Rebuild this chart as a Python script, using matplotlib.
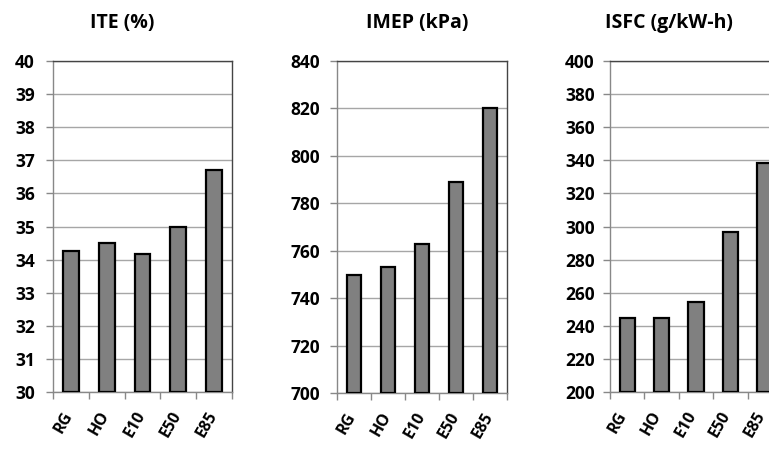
import matplotlib
matplotlib.use("Agg")
import matplotlib.pyplot as plt
import matplotlib.transforms as mtransforms
import numpy as np

plt.rcParams['font.family'] = ['Open Sans', 'DejaVu Sans']

categories = ["RG", "HO", "E10", "E50", "E85"]
ite = [34.27, 34.51, 34.18, 34.98, 36.70]
imep = [749.8, 753.3, 762.8, 788.9, 820.3]
isfc = [244.7, 244.7, 254.1, 296.6, 338.2]

titles = ["ITE (%)", "IMEP (kPa)", "ISFC (g/kW-h)"]
ylims = [(30, 40), (700, 840), (200, 400)]
ysteps = [1, 20, 20]
series = [ite, imep, isfc]

W, H = 769, 449
fig = plt.figure(figsize=(W / 100, H / 100), dpi=100)

# axes pixel boxes: left, right, top, bottom
boxes = [(53, 232, 61, 392), (337, 507, 61, 393), (610, 782, 61, 392)]
title_pos = [(122, 23), (417, 23), (669, 23)]
label_shift = [-7, -7, -10]

for i in range(3):
    l, r, t, b = boxes[i]
    ax = fig.add_axes([l / W, (H - b) / H, (r - l) / W, (b - t) / H])
    x = np.arange(len(categories))
    lo, hi = ylims[i]
    heights = [v - lo for v in series[i]]
    ax.bar(x, heights, bottom=lo, width=0.44, color="#808080",
           edgecolor="black", linewidth=1.6, zorder=3)
    ax.set_ylim(lo, hi)
    ax.set_xlim(-0.5, len(categories) - 0.5)
    ax.set_yticks(np.arange(lo, hi + ysteps[i] / 2, ysteps[i]))
    ax.yaxis.grid(True, color="#a6a6a6", linewidth=1.0, zorder=0)
    ax.set_axisbelow(True)
    ax.set_xticks(x)
    ax.set_xticklabels(categories, rotation=60, ha="center", va="top",
                       fontsize=11.5, fontweight="bold")
    ax.tick_params(axis="x", which="major", length=0, pad=12)
    offset = mtransforms.ScaledTranslation(label_shift[i] / 100, 0,
                                           fig.dpi_scale_trans)
    for lab in ax.get_xticklabels():
        lab.set_transform(lab.get_transform() + offset)
    ax.set_xticks(np.arange(-0.5, len(categories)), minor=True)
    ax.tick_params(axis="x", which="minor", length=5, color="#888888", width=1)
    ax.tick_params(axis="y", length=5, color="#888888", width=1,
                   pad=[8, 7, 6][i])
    for lab in ax.get_yticklabels():
        lab.set_fontsize(12.5)
        lab.set_fontweight("bold")
    ax.spines["left"].set_color("#888888")
    ax.spines["bottom"].set_color("#888888")
    ax.spines["top"].set_color("#444444")
    ax.spines["right"].set_color("#444444")
    for s in ax.spines.values():
        s.set_linewidth(1.0)
    tx, ty = title_pos[i]
    fig.text(tx / W, 1 - ty / H, titles[i], ha="center", va="center",
             fontsize=14, fontweight="bold")

fig.savefig("out.png", dpi=100)
